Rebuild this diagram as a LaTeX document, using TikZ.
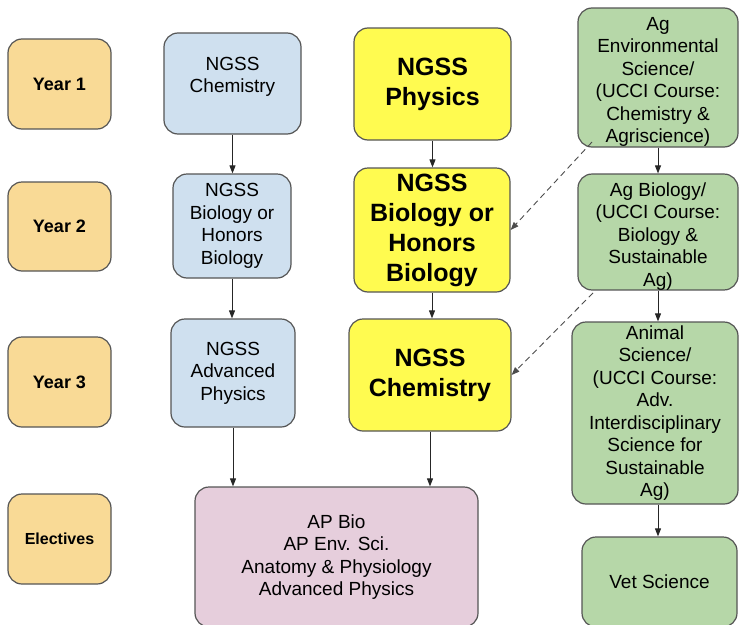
\documentclass[tikz,border=0pt]{standalone}
\usepackage{fontspec}
\setmainfont{Liberation Sans}
\usetikzlibrary{arrows.meta}

\definecolor{yearfill}{HTML}{F9DA96}
\definecolor{bluefill}{HTML}{CFE0EF}
\definecolor{ylwfill}{HTML}{FFFB50}
\definecolor{grnfill}{HTML}{B6D7A8}
\definecolor{pinkfill}{HTML}{E6CEDC}
\definecolor{edge}{HTML}{555555}

\tikzset{
  course/.style={draw=edge, line width=1.2pt, rounded corners=14pt,
    inner sep=0pt, align=center, font=\fontsize{19}{22.5}\selectfont},
  yearbox/.style={course, fill=yearfill, minimum width=103pt,
    minimum height=90pt, font=\fontsize{18}{22}\selectfont\bfseries},
  bluebox/.style={course, fill=bluefill},
  ylwbox/.style={course, fill=ylwfill, font=\fontsize{25}{30}\selectfont\bfseries},
  grnbox/.style={course, fill=grnfill},
  pinkbox/.style={course, fill=pinkfill},
  flow/.style={-{Triangle[length=8pt,width=6pt]}, line width=0.9pt, draw=black!85},
  hint/.style={flow, dashed, dash pattern=on 6pt off 4pt, draw=black!70}
}

\begin{document}
\begin{tikzpicture}[x=1pt, y=-1pt]
  \useasboundingbox (0,0) rectangle (739,624);

  % year labels
  \node[yearbox] (y1) at (59.5,84) {Year 1};
  \node[yearbox, minimum height=89pt] (y2) at (59.5,226.5) {Year 2};
  \node[yearbox] (y3) at (59.5,382) {Year 3};
  \node[yearbox, font=\fontsize{16}{20}\selectfont\bfseries] (el) at (59.5,539) {Electives};

  % blue column
  \node[bluebox, minimum width=137pt, minimum height=101pt] (chemB) at (232.5,83.5)
    {\rule{0pt}{18pt}NGSS\\Chemistry\\\mbox{}};
  \node[bluebox, minimum width=118pt, minimum height=104pt] (bioB) at (232,226)
    {NGSS\\Biology or\\Honors\\Biology};
  \node[bluebox, minimum width=124pt, minimum height=108pt] (advB) at (233,373)
    {NGSS\\Advanced\\Physics};

  % yellow column
  \node[ylwbox, minimum width=157pt, minimum height=112pt] (physY) at (432.5,84)
    {NGSS\\Physics};
  \node[ylwbox, minimum width=156pt, minimum height=124pt] (bioY) at (432,230)
    {NGSS\\Biology or\\Honors\\Biology};
  \node[ylwbox, minimum width=162pt, minimum height=112pt] (chemY) at (430,375)
    {NGSS\\Chemistry};

  % electives
  \node[pinkbox, minimum width=283pt, minimum height=140pt] (elec) at (336.5,557)
    {AP Bio\\AP Env. Sci.\\Anatomy \& Physiology\\Advanced Physics};

  % green column
  \node[grnbox, minimum width=160pt, minimum height=139pt] (env) at (658,77.5)
    {\rule{0pt}{22pt}Ag\\Environmental\\Science/\\(UCCI Course:\\Chemistry \&\\Agriscience)};
  \node[grnbox, minimum width=160pt, minimum height=112pt] (agbio) at (658,232)
    {\rule{0pt}{22pt}Ag Biology/\\(UCCI Course:\\Biology \&\\Sustainable\\Ag)};
  \node[grnbox, minimum width=166pt, minimum height=182pt] (anim) at (655,413)
    {Animal\\Science/\\(UCCI Course:\\Adv.\\Interdisciplinary\\Science for\\Sustainable\\Ag)};
  \node[grnbox, minimum width=155pt, minimum height=90pt] (vet) at (659.5,582)
    {Vet Science};

  \coordinate (envOut) at (592,142);
  \coordinate (agbioOut) at (593,293);

  \draw[flow] (chemB.south) -- (chemB.south |- bioB.north);
  \draw[flow] (bioB.south) -- (bioB.south |- advB.north);
  \draw[flow] (advB.south) -- (advB.south |- elec.north);

  \draw[flow] (physY.south) -- (physY.south |- bioY.north);
  \draw[flow] (bioY.south) -- (bioY.south |- chemY.north);
  \draw[flow] (chemY.south) -- (chemY.south |- elec.north);

  \draw[flow] (env.south) -- (env.south |- agbio.north);
  \draw[flow] (agbio.south) -- (agbio.south |- anim.north);
  \draw[flow] (agbio.south |- anim.south) -- (agbio.south |- vet.north);

  \draw[hint] (envOut) -- (bioY.east);
  \draw[hint] (agbioOut) -- (chemY.east);
\end{tikzpicture}
\end{document}
